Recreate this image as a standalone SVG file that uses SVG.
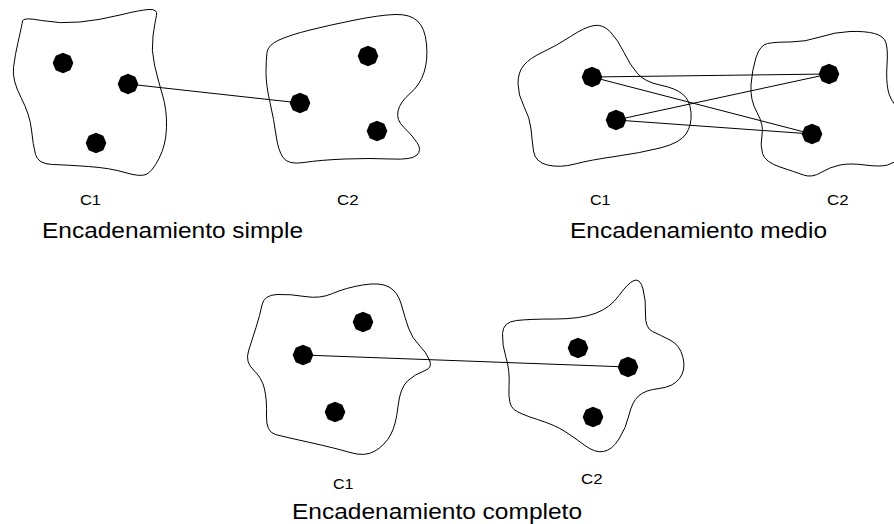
<svg xmlns="http://www.w3.org/2000/svg" xmlns:xlink="http://www.w3.org/1999/xlink" width="894" height="524" viewBox="0 0 894 524">
<style>
.blob{fill:none;stroke:#000;stroke-width:1}
.link{stroke:#000;stroke-width:1;fill:none}
.dot{fill:#000}
.lbl{font-family:"Liberation Sans",Arial,sans-serif;font-size:15.5px;fill:#000}
.cap{font-family:"Liberation Sans",Arial,sans-serif;font-size:22px;fill:#000}
</style>
<defs>
<polygon id="pt" class="dot" points="10.3,0 8.8,3.65 7.28,7.28 3.65,8.8 0,10.3 -3.65,8.8 -7.28,7.28 -8.8,3.65 -10.3,0 -8.8,-3.65 -7.28,-7.28 -3.65,-8.8 0,-10.3 3.65,-8.8 7.28,-7.28 8.8,-3.65"/>
</defs>
<rect width="894" height="524" fill="#fff"/>

<g id="simple">
<g id="simple-c1">
<path class="blob" d="M 41.5,20.5 Q 60,24 80,22 Q 100,20 120,15 Q 140,10 149,9.5 Q 158,9 156.5,15.5 Q 155,22 153,36 Q 151,50 154.5,65 Q 158,80 162.5,95 Q 167,110 166.5,127.5 Q 166,145 159,158.5 Q 152,172 146,174.5 Q 140,177 125,172.5 Q 110,168 88.5,166.5 Q 67,165 52.5,164.5 Q 38,164 35.5,154.5 Q 33,145 31.5,130 Q 30,115 21,97.5 Q 12,80 13.5,67.5 Q 15,55 18.5,40 Q 22,25 22.5,21 Q 23,17 41.5,20.5 Z"/>
<use xlink:href="#pt" href="#pt" x="63" y="63"/>
<use xlink:href="#pt" href="#pt" x="128" y="84"/>
<use xlink:href="#pt" href="#pt" x="96" y="143"/>
<text class="lbl" x="80" y="205" textLength="21" lengthAdjust="spacingAndGlyphs">C1</text>
</g>
<g id="simple-c2">
<path class="blob" d="M 279,40 Q 290,35 310,30 Q 330,25 355,20 Q 380,15 395,14.5 Q 410,14 417.5,21 Q 425,28 426.5,44 Q 428,60 424,72.5 Q 420,85 410,93.5 Q 400,102 398,111 Q 396,120 404,127.5 Q 412,135 417,142.5 Q 422,150 417,155 Q 412,160 391,159 Q 370,158 345,159 Q 320,160 304,162.5 Q 288,165 283,157.5 Q 278,150 276,135 Q 274,120 270,102.5 Q 266,85 266,72.5 Q 266,60 267,52.5 Q 268,45 279,40 Z"/>
<use xlink:href="#pt" href="#pt" x="368" y="56"/>
<use xlink:href="#pt" href="#pt" x="300" y="103"/>
<use xlink:href="#pt" href="#pt" x="377" y="131"/>
<text class="lbl" x="337" y="205" textLength="21.5" lengthAdjust="spacingAndGlyphs">C2</text>
</g>
<text id="simple-title" class="cap" x="42" y="238" textLength="261" lengthAdjust="spacingAndGlyphs">Encadenamiento simple</text>
</g>

<g id="medio">
<g id="medio-c1">
<path class="blob" d="M 524,65 Q 530,58 543,52 Q 556,46 570.5,36.5 Q 585,27 594,25.5 Q 603,24 610.5,32 Q 618,40 624,52.5 Q 630,65 637.5,73.5 Q 645,82 660,85 Q 675,88 682.5,94 Q 690,100 691,112.5 Q 692,125 686,134 Q 680,143 660,148 Q 640,153 615,156.5 Q 590,160 575,164 Q 560,168 547.5,165 Q 535,162 533.5,151 Q 532,140 531,129 Q 530,118 524,106.5 Q 518,95 518,83.5 Q 518,72 524,65 Z"/>
<use xlink:href="#pt" href="#pt" x="592" y="77"/>
<use xlink:href="#pt" href="#pt" x="616" y="120"/>
<text class="lbl" x="590" y="204.5" textLength="20.5" lengthAdjust="spacingAndGlyphs">C1</text>
</g>
<g id="medio-c2">
<path class="blob" d="M 767.5,43.5 Q 775,42 790,42 Q 805,42 820,37 Q 835,32 850,31.5 Q 865,31 874.5,33.5 Q 884,36 886,43 Q 888,50 887,65 Q 886,80 888,90 Q 890,100 897.5,107.5 Q 905,115 906.5,132.5 Q 908,150 901.5,156.5 Q 895,163 887.5,165 Q 880,167 865,165 Q 850,163 840,165 Q 830,167 821,172.5 Q 812,178 803.5,175 Q 795,172 780,167 Q 765,162 762.5,153.5 Q 760,145 762,135 Q 764,125 757,112.5 Q 750,100 751,85 Q 752,70 756,57.5 Q 760,45 767.5,43.5 Z"/>
<use xlink:href="#pt" href="#pt" x="829" y="74"/>
<use xlink:href="#pt" href="#pt" x="812" y="134"/>
<text class="lbl" x="827" y="204.5" textLength="21.5" lengthAdjust="spacingAndGlyphs">C2</text>
</g>
<text id="medio-title" class="cap" x="570" y="238" textLength="257" lengthAdjust="spacingAndGlyphs">Encadenamiento medio</text>
</g>

<g id="completo">
<g id="completo-c1">
<path class="blob" d="M 277,294.5 Q 290,294 305,296.5 Q 320,299 332.5,293.5 Q 345,288 362.5,285 Q 380,282 389,287 Q 398,292 401.5,305 Q 405,318 408.5,328 Q 412,338 419,345 Q 426,352 429.5,360 Q 433,368 424,371 Q 415,374 407.5,381 Q 400,388 398,406.5 Q 396,425 390.5,435 Q 385,445 375,451 Q 365,457 350,452.5 Q 335,448 310,442.5 Q 285,437 275.5,434.5 Q 266,432 266.5,416 Q 267,400 264.5,389 Q 262,378 253.5,370 Q 245,362 248.5,351 Q 252,340 256,327.5 Q 260,315 262,305 Q 264,295 277,294.5 Z"/>
<use xlink:href="#pt" href="#pt" x="363" y="322"/>
<use xlink:href="#pt" href="#pt" x="303" y="355"/>
<use xlink:href="#pt" href="#pt" x="335" y="412"/>
<text class="lbl" x="333" y="488.5" textLength="20.5" lengthAdjust="spacingAndGlyphs">C1</text>
</g>
<g id="completo-c2">
<path class="blob" d="M 516.5,320.5 Q 530,319 555,319 Q 580,319 595,313.5 Q 610,308 619,295.5 Q 628,283 634,280.5 Q 640,278 643,289 Q 646,300 645.5,314 Q 645,328 652.5,331.5 Q 660,335 670,340 Q 680,345 683,357.5 Q 686,370 679.5,378.5 Q 673,387 659,388.5 Q 645,390 638.5,396 Q 632,402 629,415 Q 626,428 619,439 Q 612,450 603.5,451.5 Q 595,453 585,445.5 Q 575,438 565,431.5 Q 555,425 537.5,419.5 Q 520,414 514,409.5 Q 508,405 509,387.5 Q 510,370 506,357.5 Q 502,345 502.5,333.5 Q 503,322 516.5,320.5 Z"/>
<use xlink:href="#pt" href="#pt" x="578" y="348"/>
<use xlink:href="#pt" href="#pt" x="628" y="367"/>
<use xlink:href="#pt" href="#pt" x="593" y="417"/>
<text class="lbl" x="581" y="483.5" textLength="21.5" lengthAdjust="spacingAndGlyphs">C2</text>
</g>
<text id="completo-title" class="cap" x="292" y="518.5" textLength="290" lengthAdjust="spacingAndGlyphs">Encadenamiento completo</text>
</g>

<g id="connectors">
<line class="link" x1="128" y1="84" x2="300" y2="103"/>
<line class="link" x1="592" y1="77" x2="829" y2="74"/>
<line class="link" x1="592" y1="77" x2="812" y2="134"/>
<line class="link" x1="616" y1="120" x2="829" y2="74"/>
<line class="link" x1="616" y1="120" x2="812" y2="134"/>
<line class="link" x1="303" y1="355" x2="628" y2="367"/>
</g>
</svg>
